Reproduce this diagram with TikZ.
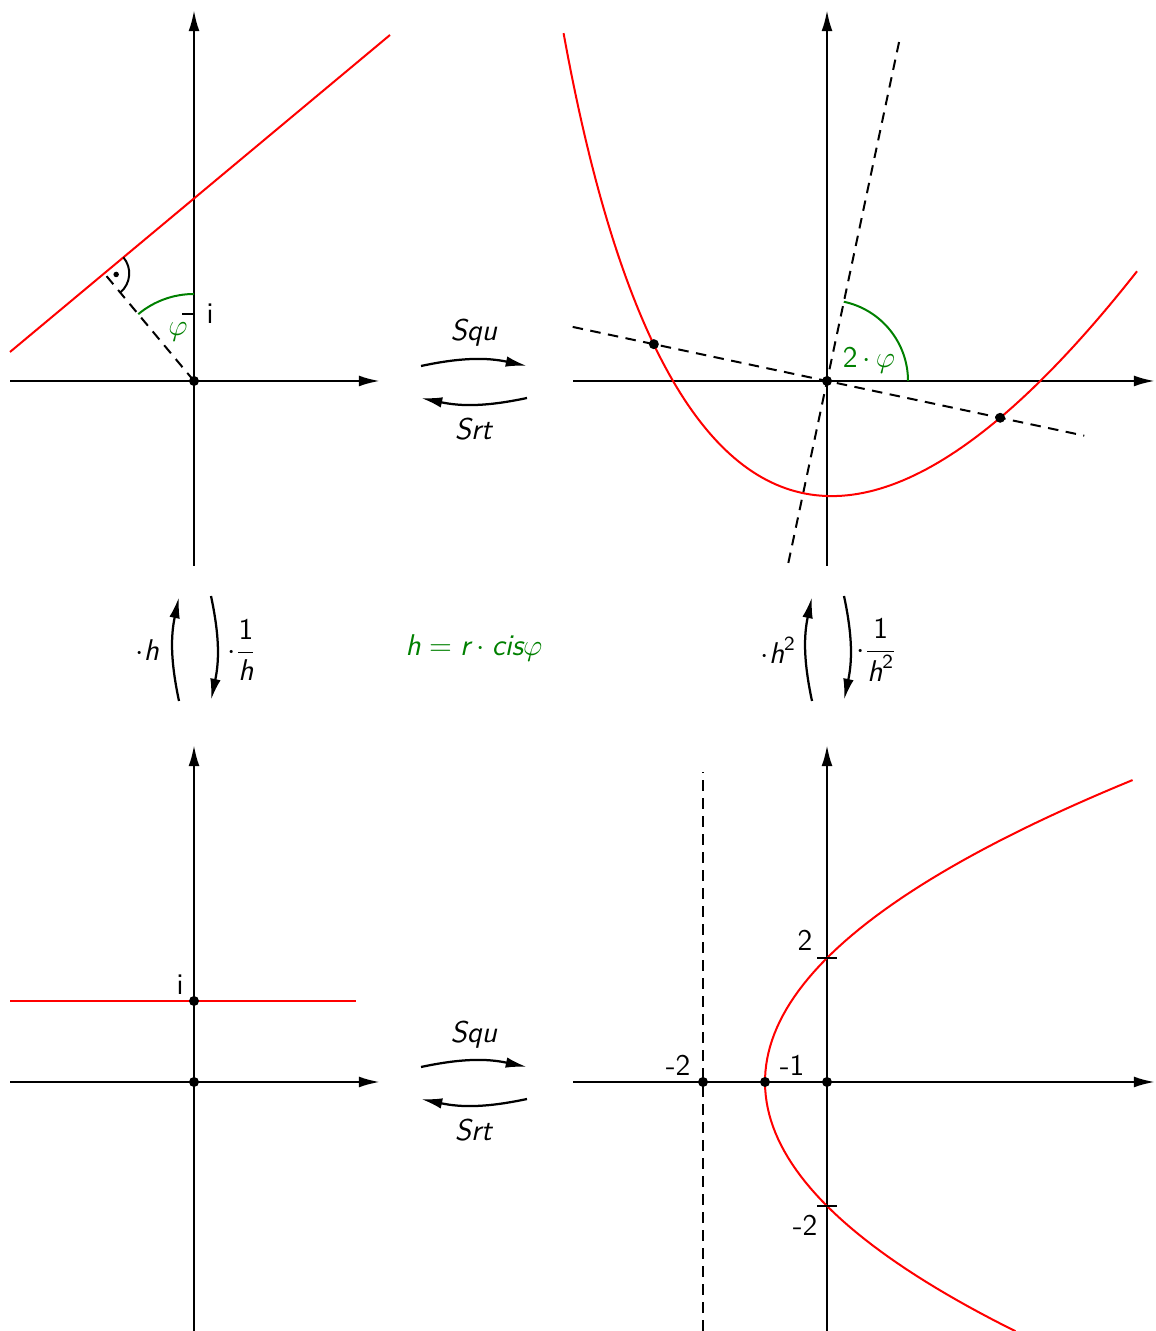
\documentclass[tikz,border=0pt]{standalone}
\usepackage{amsmath}
\usepackage{fontspec}
\usetikzlibrary{arrows.meta}
\newcommand{\mysi}[1]{\textsf{\itshape #1}}
\begin{document}
\begin{tikzpicture}[x=0.4pt,y=0.4pt,
 ax/.style={line width=1pt,-{Latex[length=8.5pt,width=4.4pt]}},
 redc/.style={red,line width=0.8pt},
 dsh/.style={line width=0.8pt,dash pattern=on 4.2pt off 3pt},
 ang/.style={draw=green!50!black,line width=0.8pt},
 thin/.style={line width=0.8pt},
 dot/.style={circle,fill,inner sep=0pt,minimum size=4pt},
 lbl/.style={font=\fontsize{12}{14}\selectfont\sffamily,inner sep=1pt},
 glbl/.style={lbl,text=green!50!black},
 maparr/.style={line width=0.9pt,-{Latex[length=8.5pt,width=4.2pt]}}]
\useasboundingbox (0,0) rectangle (1155,1331);

% ---------- top left ----------
\begin{scope}[shift={(194,950)}]
 \coordinate (tlO) at (0,0);
 \coordinate (tlxs) at (-184,0); \coordinate (tlxe) at (186,0);
 \coordinate (tlys) at (0,-185); \coordinate (tlye) at (0,371);
 \draw[ax] (tlxs) -- (tlxe);
 \draw[ax] (tlys) -- (tlye);
 \coordinate (tlr1) at (-184,29); \coordinate (tlr2) at (196,346);
 \draw[redc] (tlr1) -- (tlr2);
 \coordinate (tlF) at (-89.77,107.61);
 \draw[dsh] (tlO) -- (tlF);
 \coordinate (tlra) at (-70.57,123.62);
 \draw[thin] (tlra) arc[start angle=39.83,end angle=-50.17,radius=25];
 \node[dot,minimum size=2.2pt] (tlrd) at (-77.82,106.53) {};
 \coordinate (tlga) at (0,87);
 \draw[ang] (tlga) arc[start angle=90,end angle=129.83,radius=87];
 \coordinate (tlt1) at (-12,67); \coordinate (tlt2) at (0,67);
 \draw[thin] (tlt1) -- (tlt2);
 \node[lbl] (tli) at (16,67) {i};
 \node[glbl] (tlphi) at (-16,49) {$\varphi$};
 \node[dot] (tlOd) at (tlO) {};
\end{scope}

% ---------- top right ----------
\begin{scope}[shift={(827,950)}]
 \coordinate (trO) at (0,0);
 \coordinate (trxs) at (-254,0); \coordinate (trxe) at (328,0);
 \coordinate (trys) at (0,-185); \coordinate (trye) at (0,371);
 \draw[ax] (trxs) -- (trxe);
 \draw[ax] (trys) -- (trye);
 \coordinate (trd1a) at (168:260); \coordinate (trd1b) at (-12:263);
 \coordinate (trd2a) at (258:186); \coordinate (trd2b) at (78:353);
 \draw[dsh] (trd1a) -- (trd1b);
 \draw[dsh] (trd2a) -- (trd2b);
 \begin{scope}[rotate=-12.2]
  \draw[redc] plot[domain=-3.31:2.80,samples=120,variable=\u]
   ({100*\u},{-114.7+0.436*\u+36.55*\u*\u});
 \end{scope}
 \coordinate (trga) at (81,0);
 \draw[ang] (trga) arc[start angle=0,end angle=78,radius=81];
 \node[glbl] (tr2phi) at (42,21) {\textsf{2}$\,\cdot\,\varphi$};
 \node[dot] (trp1) at (168:177) {};
 \node[dot] (trp2) at (-12:177) {};
 \node[dot] (trOd) at (trO) {};
\end{scope}

% ---------- bottom left ----------
\begin{scope}[shift={(194,249)}]
 \coordinate (blO) at (0,0);
 \coordinate (blxs) at (-184,0); \coordinate (blxe) at (186,0);
 \coordinate (blys) at (0,-249); \coordinate (blye) at (0,337);
 \draw[ax] (blxs) -- (blxe);
 \draw[ax] (blys) -- (blye);
 \coordinate (blr1) at (-184,81); \coordinate (blr2) at (162,81);
 \draw[redc] (blr1) -- (blr2);
 \node[dot] (bli) at (0,81) {};
 \node[dot] (blOd) at (blO) {};
 \node[lbl] (blil) at (-14,97) {i};
\end{scope}

% ---------- bottom right ----------
\begin{scope}[shift={(827,249)}]
 \coordinate (brO) at (0,0);
 \coordinate (brxs) at (-254,0); \coordinate (brxe) at (328,0);
 \coordinate (brys) at (0,-249); \coordinate (brye) at (0,337);
 \draw[ax] (brxs) -- (brxe);
 \draw[ax] (brys) -- (brye);
 \coordinate (brd1) at (-124,-249); \coordinate (brd2) at (-124,310);
 \draw[dsh] (brd1) -- (brd2);
 \draw[redc] plot[domain=-4.02:4.87,samples=90,variable=\t] ({62*(\t*\t/4-1)},{62*\t});
 \coordinate (brt1a) at (-10,124); \coordinate (brt1b) at (10,124);
 \coordinate (brt2a) at (-10,-124); \coordinate (brt2b) at (10,-124);
 \draw[thin] (brt1a) -- (brt1b);
 \draw[thin] (brt2a) -- (brt2b);
 \node[dot] (brm2) at (-124,0) {};
 \node[dot] (brm1) at (-62,0) {};
 \node[dot] (brOd) at (brO) {};
 \node[lbl] (brl1) at (-149,17) {-2};
 \node[lbl] (brl2) at (-35,17) {-1};
 \node[lbl] (brl3) at (-22,142) {2};
 \node[lbl] (brl4) at (-22,-143) {-2};
\end{scope}

% ---------- horizontal maps ----------
\coordinate (s1a) at (421,965); \coordinate (s1b) at (527,965);
\coordinate (s2a) at (527,933); \coordinate (s2b) at (421,933);
\draw[maparr] (s1a) to[bend left=12] (s1b);
\draw[maparr] (s2a) to[bend left=12] (s2b);
\node[lbl] (squ1) at (474,998) {\mysi{Squ}};
\node[lbl] (srt1) at (474,902) {\mysi{Srt}};

\coordinate (s3a) at (421,264); \coordinate (s3b) at (527,264);
\coordinate (s4a) at (527,232); \coordinate (s4b) at (421,232);
\draw[maparr] (s3a) to[bend left=12] (s3b);
\draw[maparr] (s4a) to[bend left=12] (s4b);
\node[lbl] (squ2) at (474,296) {\mysi{Squ}};
\node[lbl] (srt2) at (474,201) {\mysi{Srt}};

% ---------- vertical maps ----------
\coordinate (v1a) at (179,630); \coordinate (v1b) at (179,734);
\coordinate (v2a) at (211,735); \coordinate (v2b) at (211,631);
\draw[maparr] (v1a) to[bend left=12] (v1b);
\draw[maparr] (v2a) to[bend left=12] (v2b);
\node[lbl,anchor=east] (mh) at (162,681) {$\cdot\mysi{h}$};
\node[lbl,anchor=west] (dh) at (224,681) {$\cdot\dfrac{\textsf{1}}{\mysi{h}}$};

\coordinate (v3a) at (812,630); \coordinate (v3b) at (812,734);
\coordinate (v4a) at (844,735); \coordinate (v4b) at (844,631);
\draw[maparr] (v3a) to[bend left=12] (v3b);
\draw[maparr] (v4a) to[bend left=12] (v4b);
\node[lbl,anchor=east] (mh2) at (799,681) {$\cdot\mysi{h}^{\textsf{2}}$};
\node[lbl,anchor=west] (dh2) at (853,681) {$\cdot\dfrac{\textsf{1}}{\mysi{h}^{\textsf{2}}}$};

\node[glbl] (hdef) at (474,683) {$\mysi{h}=\mysi{r}\cdot\mysi{cis}\varphi$};
\end{tikzpicture}
\end{document}
